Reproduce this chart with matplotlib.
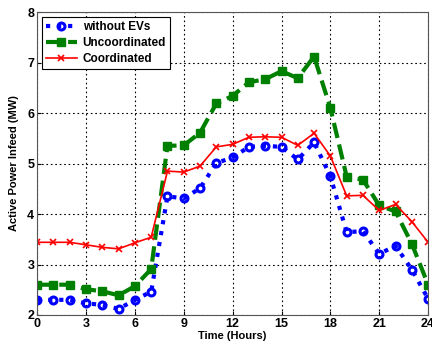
import numpy as np
import matplotlib
matplotlib.use('Agg')
import matplotlib.pyplot as plt

plt.rcParams['font.family'] = ['Liberation Sans', 'DejaVu Sans']
plt.rcParams['font.weight'] = 'bold'

hours = list(range(25))
without_evs = [2.30, 2.30, 2.30, 2.23, 2.20, 2.12, 2.30, 2.46, 4.35, 4.31, 4.51, 5.01, 5.12,
               5.33, 5.35, 5.33, 5.08, 5.42, 4.75, 3.64, 3.66, 3.21, 3.37, 2.90, 2.32]
uncoordinated = [2.60, 2.60, 2.60, 2.51, 2.47, 2.39, 2.57, 2.91, 5.35, 5.36, 5.61, 6.19, 6.34,
                 6.61, 6.67, 6.83, 6.69, 7.12, 6.10, 4.74, 4.68, 4.17, 4.05, 3.41, 2.60]
coordinated = [3.44, 3.44, 3.44, 3.39, 3.34, 3.31, 3.43, 3.54, 4.85, 4.83, 4.95, 5.33, 5.38,
               5.52, 5.53, 5.52, 5.36, 5.60, 5.15, 4.36, 4.37, 4.07, 4.19, 3.85, 3.44]

fig = plt.figure(figsize=(4.32, 3.45), dpi=100)
ax = fig.add_axes([0.086, 0.087, 0.905, 0.878])

ax.plot(hours, without_evs, ':', color='#0000ff', lw=3, marker='o', ms=5,
        mfc='none', mew=2.2, label='without EVs')
ax.plot(hours, uncoordinated, '--', color='#008000', lw=3, marker='s', ms=5.5,
        mfc='#008000', label='Uncoordinated')
ax.plot(hours, coordinated, '-', color='#ff0000', lw=1.2, marker='x', ms=5,
        mew=1.2, label='Coordinated')

ax.set_xlim(0, 24)
ax.set_ylim(2, 8)
ax.set_xticks(range(0, 25, 3))
ax.set_yticks(range(2, 9))
ax.grid(True, color='black', linestyle=(0, (1.5, 2.5)), linewidth=0.8)
ax.tick_params(direction='in', labelsize=9, pad=2, length=3)
for s in ax.spines.values():
    s.set_color('#555555')
ax.set_xlabel('Time (Hours)', fontsize=8, fontweight='bold', labelpad=1)
ax.set_ylabel('Active Power Infeed (MW)', fontsize=8, fontweight='bold', labelpad=6)

leg = ax.legend(loc='upper left', fontsize=8.5, fancybox=False, framealpha=1,
                edgecolor='black', borderaxespad=0.4, handlelength=2.6,
                borderpad=0.35, labelspacing=0.35, handletextpad=0.5)
leg.get_frame().set_linewidth(0.8)

fig.savefig('out.png', dpi=100)
